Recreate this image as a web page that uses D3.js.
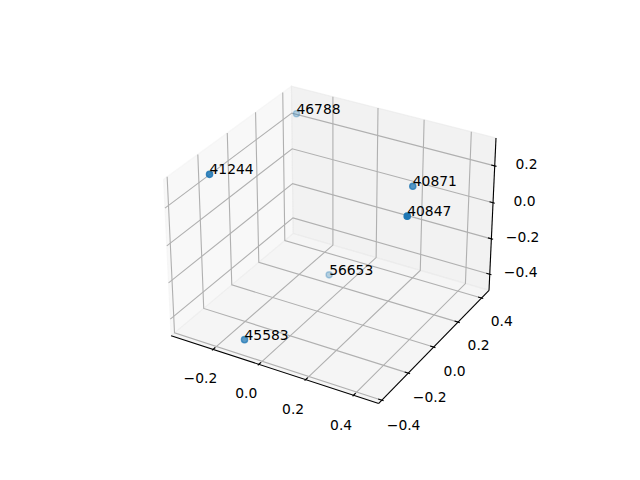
<!DOCTYPE html>
<html><head><meta charset="utf-8">
<script src="https://cdn.jsdelivr.net/npm/d3@7"></script>
<style>html,body{margin:0;background:#fff}svg{display:block}text{font-family:"DejaVu Sans";font-size:13.89px;fill:#000}</style>
</head><body><svg id="c" width="640" height="480"></svg>
<script>
const labels=["46788","41244","40871","40847","56653","45583"];
const xs=[-0.333,-0.283,0.321,0.435,-0.065,-0.087];
const ys=[0.411,-0.283,0.152,-0.105,0.203,-0.381];
const zs=[0.244,0.328,0.214,0.254,-0.446,-0.422];
const xTicks=[-0.2,0,0.2,0.4], yTicks=[-0.4,-0.2,0,0.2,0.4], zTicks=[-0.4,-0.2,0,0.2];
const xLim=[-0.37,0.485], yLim=[-0.405,0.448], zLim=[-0.476,0.332];

const el=30*Math.PI/180, az=-60*Math.PI/180, dist=10;
const k=1.8294640721620434/Math.sqrt(41);
const box=[4*k,4*k,3*k];
const sx=d3.scaleLinear().domain(xLim).range([0,box[0]]);
const sy=d3.scaleLinear().domain(yLim).range([0,box[1]]);
const sz=d3.scaleLinear().domain(zLim).range([0,box[2]]);
const w=[Math.cos(el)*Math.cos(az),Math.cos(el)*Math.sin(az),Math.sin(el)];
const u=[-w[1],w[0],0].map(v=>v/Math.hypot(w[0],w[1]));
const v=[w[1]*u[2]-w[2]*u[1],w[2]*u[0]-w[0]*u[2],w[0]*u[1]-w[1]*u[0]];
const eye=box.map((b,i)=>b/2+dist*w[i]);
const dot=(a,b)=>a[0]*b[0]+a[1]*b[1]+a[2]*b[2];
const px=d3.scaleLinear().domain([-0.095,0.09]).range([143.2,512.8]);
const py=d3.scaleLinear().domain([-0.09525,0.09]).range([427.2,57.6]);
function view(p){const q=[sx(p[0])-eye[0],sy(p[1])-eye[1],sz(p[2])-eye[2]];return [dot(q,u),dot(q,v),dot(q,w)];}
function proj(p){const c=view(p);return [px(c[0]/-c[2]),py(c[1]/-c[2])];}

const pad=l=>(l[1]-l[0])/48;
const X0=xLim[0]-pad(xLim),X1=xLim[1]+pad(xLim),Y0=yLim[0]-pad(yLim),Y1=yLim[1]+pad(yLim),Z0=zLim[0]-pad(zLim),Z1=zLim[1]+pad(zLim);
const dX=(xLim[1]-xLim[0])/12*(1+1/24),dY=(yLim[1]-yLim[0])/12*(1+1/24);
const LBL=0.105;
const rX=xLim[1]-xLim[0],rY=yLim[1]-yLim[0],rZ=zLim[1]-zLim[0];

const svg=d3.select("#c");
const line=d3.line().x(p=>proj(p)[0]).y(p=>proj(p)[1]);
const poly=pts=>line(pts)+"Z";

const panes=[
 {c:[[X0,Y0,Z0],[X0,Y1,Z0],[X0,Y1,Z1],[X0,Y0,Z1]],f:"rgb(242,242,242)",o:.5},
 {c:[[X0,Y1,Z0],[X1,Y1,Z0],[X1,Y1,Z1],[X0,Y1,Z1]],f:"rgb(230,230,230)",o:.5},
 {c:[[X0,Y0,Z0],[X1,Y0,Z0],[X1,Y1,Z0],[X0,Y1,Z0]],f:"rgb(236,236,236)",o:.5}];
svg.selectAll("path.pane").data(panes).join("path").attr("class","pane")
 .attr("d",d=>poly(d.c)).attr("fill",d=>d.f).attr("fill-opacity",d=>d.o)
 .attr("stroke",d=>d.f).attr("stroke-opacity",d=>d.o).attr("stroke-width",1.11);

const grid=[
 ...xTicks.map(t=>[[t,Y0,Z0],[t,Y1,Z0],[t,Y1,Z1]]),
 ...yTicks.map(t=>[[X1,t,Z0],[X0,t,Z0],[X0,t,Z1]]),
 ...zTicks.map(t=>[[X0,Y0,t],[X0,Y1,t],[X1,Y1,t]])];
svg.selectAll("path.grid").data(grid).join("path").attr("class","grid")
 .attr("d",line).attr("fill","none").attr("stroke","#b0b0b0").attr("stroke-width",1.11);

const axes=[[[X0,Y0,Z0],[X1,Y0,Z0]],[[X1,Y0,Z0],[X1,Y1,Z0]],[[X1,Y1,Z0],[X1,Y1,Z1]]];
svg.selectAll("path.axis").data(axes).join("path").attr("class","axis")
 .attr("d",line).attr("fill","none").attr("stroke","#000").attr("stroke-width",1.11);

const tks=[
 ...xTicks.map(t=>[[t,Y0-0.1*dY,Z0],[t,Y0+0.2*dY,Z0]]),
 ...yTicks.map(t=>[[X1+0.1*dX,t,Z0],[X1-0.2*dX,t,Z0]]),
 ...zTicks.map(t=>[[X1+0.1*dX,Y1,t],[X1-0.2*dX,Y1,t]])];
svg.selectAll("path.tick").data(tks).join("path").attr("class","tick")
 .attr("d",line).attr("fill","none").attr("stroke","#000").attr("stroke-width",1.11);

const fmt=d3.format(".1f");
const tl=[
 ...xTicks.map(t=>({t,p:[t,Y0-LBL*rY,Z0-LBL*rZ]})),
 ...yTicks.map(t=>({t,p:[X1+LBL*rX,t,Z0-LBL*rZ]})),
 ...zTicks.map(t=>({t,p:[X1+LBL*rX,Y1+LBL*rY,t]}))];
svg.selectAll("text.tl").data(tl).join("text").attr("class","tl")
 .attr("x",d=>proj(d.p)[0]).attr("y",d=>proj(d.p)[1]).attr("dy","0.5em")
 .attr("text-anchor","middle").text(d=>fmt(d.t).replace("-","\u2212"));

const pts=labels.map((l,i)=>({l,p:[xs[i],ys[i],zs[i]],d:view([xs[i],ys[i],zs[i]])[2]}));
const alpha=d3.scaleLinear().domain(d3.extent(pts,d=>d.d)).range([0.3,1]);
pts.sort((a,b)=>a.d-b.d);
svg.selectAll("circle").data(pts).join("circle")
 .attr("cx",d=>proj(d.p)[0]).attr("cy",d=>proj(d.p)[1]).attr("r",3.1)
 .attr("fill","#1f77b4").attr("stroke","#1f77b4").attr("stroke-width",1.39)
 .attr("fill-opacity",d=>alpha(d.d)).attr("stroke-opacity",d=>alpha(d.d));
svg.selectAll("text.lab").data(pts).join("text").attr("class","lab")
 .attr("x",d=>proj(d.p)[0]).attr("y",d=>proj(d.p)[1]).text(d=>d.l);
</script></body></html>
